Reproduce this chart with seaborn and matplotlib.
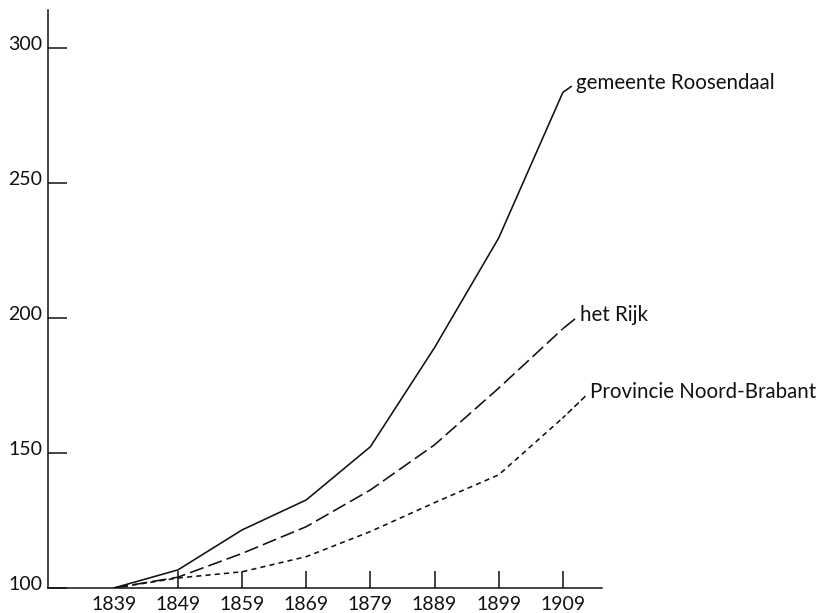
import matplotlib
matplotlib.use("Agg")
import matplotlib.pyplot as plt
from matplotlib.transforms import ScaledTranslation
import seaborn as sns
import pandas as pd

years = [1839, 1849, 1859, 1869, 1879, 1889, 1899, 1909]
gemeente = [100, 106.7, 121.5, 132.6, 152.3, 189.0, 229.6, 283.5]
rijk = [100, 104.0, 112.8, 122.7, 136.3, 153.0, 174.0, 196.0]
provincie = [100, 103.7, 106.0, 111.6, 120.9, 131.6, 141.9, 163.0]
series_names = ["gemeente Roosendaal", "het Rijk", "Provincie Noord-Brabant"]
yticks = [100, 150, 200, 250, 300]

sns.set_theme(style="white")
plt.rcParams["font.family"] = ["Lato", "DejaVu Sans"]

fig = plt.figure(figsize=(8.32, 6.13), dpi=100)
ax = fig.add_axes([48 / 832, 1 - 588 / 613, (602 - 48) / 832, (588 - 10) / 613])

styles = [(0, ()), (0, (9, 3.2)), (0, (3.2, 2.6))]
data = [gemeente, rijk, provincie]
label_pos = [(1911.1, 287.0), (1911.6, 201.0), (1913.2, 172.6)]
for name, vals, ls, (lx, ly) in zip(series_names, data, styles, label_pos):
    df = pd.DataFrame({"jaar": years, "index": vals})
    sns.lineplot(data=df, x="jaar", y="index", ax=ax, color="#111111",
                 linewidth=1.15, linestyle=ls)
    ax.annotate(name, xy=(years[-1], vals[-1]), xytext=(lx, ly),
                textcoords="data", ha="left", va="center", fontsize=14.8,
                color="#111111",
                arrowprops=dict(arrowstyle="-", linestyle=ls, color="#111111",
                                linewidth=1.15, shrinkA=1.5, shrinkB=0,
                                relpos=(0, 0.5)))

ax.set_xlim(1828.75, 1915.1)
ax.set_ylim(100, 314)
ax.set_xticks(years)
ax.set_xticklabels([str(y) for y in years])
ax.set_yticks(yticks)
ax.set_yticklabels([str(v) for v in yticks])
ax.set_xlabel("")
ax.set_ylabel("")

for s in ["top", "right"]:
    ax.spines[s].set_visible(False)
for s in ["left", "bottom"]:
    ax.spines[s].set_color("#111111")
    ax.spines[s].set_linewidth(1.1)

ax.tick_params(axis="x", direction="in", length=12.5, width=1.1, color="#111111",
               labelsize=14, pad=6, labelcolor="#111111", bottom=True)
ax.tick_params(axis="y", direction="in", length=14, width=1.1, color="#111111",
               labelsize=14, pad=4, labelcolor="#111111", left=True)
ax.xaxis.get_major_ticks()[0].tick1line.set_visible(False)

off = ScaledTranslation(0, 5 / 100, fig.dpi_scale_trans)
for lab in ax.get_yticklabels():
    lab.set_transform(lab.get_transform() + off)

fig.savefig("out.png", dpi=100)
